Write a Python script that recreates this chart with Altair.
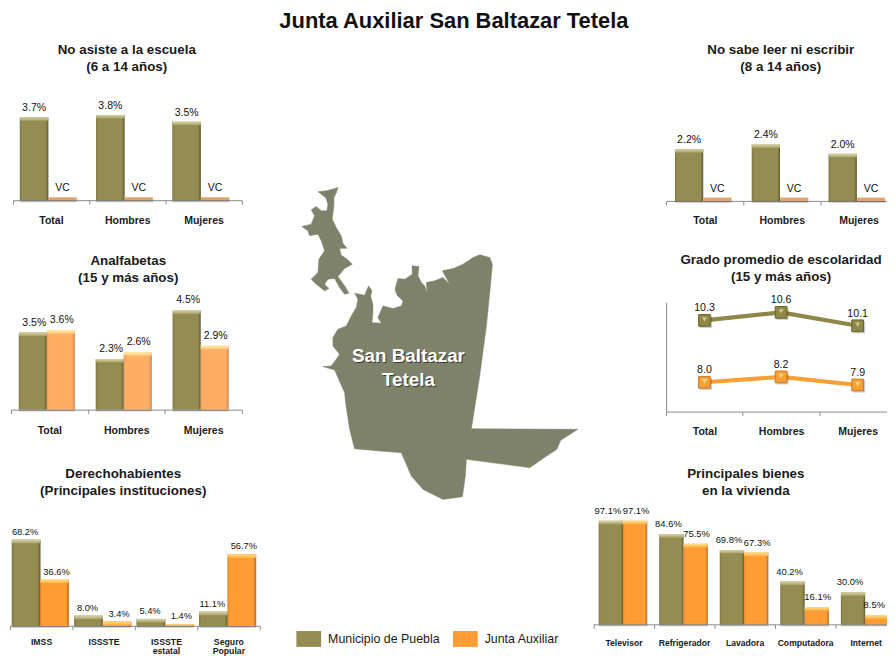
import altair as alt

TITLE = "Junta Auxiliar San Baltazar Tetela"
S_A = "Municipio de Puebla"
S_B = "Junta Auxiliar"
FONT = "Liberation Sans"
INK = "#1a1a1a"

grupos = ["Total", "Hombres", "Mujeres"]

asiste_a = [3.7, 3.8, 3.5]
asiste_b = [0.13, 0.13, 0.13]
asiste_lab_a = ["3.7%", "3.8%", "3.5%"]
asiste_lab_b = ["VC", "VC", "VC"]

leer_a = [2.2, 2.4, 2.0]
leer_b = [0.14, 0.14, 0.14]
leer_lab_a = ["2.2%", "2.4%", "2.0%"]
leer_lab_b = ["VC", "VC", "VC"]

analf_a = [3.5, 2.3, 4.5]
analf_b = [3.6, 2.6, 2.9]
analf_lab_a = ["3.5%", "2.3%", "4.5%"]
analf_lab_b = ["3.6%", "2.6%", "2.9%"]

grado_a = [10.3, 10.6, 10.1]
grado_b = [8.0, 8.2, 7.9]

inst = ["IMSS", "ISSSTE", "ISSSTE|estatal", "Seguro|Popular"]
inst_a = [68.2, 8.0, 5.4, 11.1]
inst_b = [36.6, 3.4, 1.4, 56.7]

bienes = ["Televisor", "Refrigerador", "Lavadora", "Computadora", "Internet"]
bienes_a = [97.1, 84.6, 69.8, 40.2, 30.0]
bienes_b = [97.1, 75.5, 67.3, 16.1, 8.5]

map_north = [(85,68),(110,65),(130,60),(145,55),(140,72),(133,85),(133,110),(128,150),(140,175),(155,200),
             (160,222),(172,237),(150,238),(155,258),(170,268),(188,285),(165,298),(145,322),(165,350),(178,372),
             (165,375),(150,355),(135,328),(115,330),(105,345),(118,358),(105,365),(80,345),(65,330),(85,310),
             (88,270),(105,245),(95,215),(85,195),(60,200),(55,185),(37,172),(65,165),(75,140),(65,122),
             (80,112),(95,125),(112,125),(115,105),(108,85),(85,68)]
map_main = [(195,372),(225,378),(237,350),(247,365),(243,380),(250,405),(250,430),(247,460),(275,462),(265,445),
            (280,410),(310,418),(335,410),(340,395),(322,378),(316,360),(325,328),(345,330),(368,315),(367,290),
            (388,292),(385,320),(395,340),(405,350),(412,372),(410,340),(435,335),(460,325),(480,345),(458,305),
            (490,298),(520,285),(550,265),(570,257),(600,265),(608,285),(603,340),(590,470),(570,620),(545,778),
            (864,780),(813,813),(801,840),(765,864),(720,895),(530,870),(527,920),(518,982),(460,990),(400,960),
            (365,920),(335,850),(270,845),(195,838),(180,780),(168,700),(165,670),(145,625),(135,602),(100,592),
            (125,590),(140,570),(150,555),(130,530),(130,505),(145,480),(170,470),(185,440),(200,415),(205,390),
            (195,372)]

W, H = 887, 648
SX, SY = 0.992, 0.989


def PX(x):
    return (x - 0.2) / SX - 8


def PY(y):
    return (y - 4.2) / SY - 8


def grad(edge_l, body, edge_r):
    return alt.LinearGradient(
        gradient="linear", x1=0, x2=1, y1=0, y2=0,
        stops=[alt.GradientStop(color=edge_l, offset=0),
               alt.GradientStop(color=body, offset=0.08),
               alt.GradientStop(color=body, offset=0.9),
               alt.GradientStop(color=edge_r, offset=1)])


def vgrad(top, bottom):
    return alt.LinearGradient(
        gradient="linear", x1=0, x2=0, y1=0, y2=1,
        stops=[alt.GradientStop(color=top, offset=0), alt.GradientStop(color=bottom, offset=1)])


OLIVE = dict(fill=grad("#7d7640", "#948c52", "#625c30"), hi=vgrad("#d8d4a4", "#a8a26a"))
ORANGE = dict(fill=grad("#e08a2c", "#ff9c33", "#b86a24"), hi=vgrad("#ffe08a", "#ffb048"))
PALE = dict(fill=grad("#eda05c", "#ffae66", "#cf8a50"), hi=vgrad("#fff0a8", "#ffc47c"))
FLAT_VC = dict(fill="#e0a468", hi=None)


def x_axis(cats_font, cats_weight, base, pad):
    return alt.Axis(orient="bottom", offset=PY(base) - H, title=None, grid=False, labelAngle=0,
                    tickBand="extent", tickSize=4, tickColor="#8a8a8a", domainColor="#8a8a8a",
                    labelFont=FONT, labelFontSize=cats_font, labelFontWeight=cats_weight, labelColor=INK,
                    labelPadding=pad, labelOverlap=False, labelLineHeight=9.5,
                    labelExpr="split(datum.label, '|')")


def bars_panel(cats, va, vb, la, lb, x0, x1, base, k, off, style_b, font, ax_font, ax_weight, pad, dy,
               dx_a=0, dx_b=0, last_b_dx=None, legend=False):
    top = max(va + vb) * 1.1
    ky = k / SY
    xs = alt.X("cat:N", scale=alt.Scale(domain=cats, range=[PX(x0), PX(x1)], paddingInner=0, paddingOuter=0),
               axis=x_axis(ax_font, ax_weight, base, pad), sort=None)
    ys = alt.Y("v:Q", scale=alt.Scale(domain=[0, top], range=[PY(base), PY(base) - top * ky], nice=False, zero=True),
               axis=None)
    xo = alt.XOffset("s:N", scale=alt.Scale(domain=[S_A, S_B], range=[off[0] / SX, off[1] / SX],
                                            paddingInner=0, paddingOuter=0), sort=None)
    rows = lambda s, vals, labs: [
        {"cat": c, "s": s, "v": v, "v2": 0, "h": max(0, v - 3.5 / k), "t": t}
        for c, v, t in zip(cats, vals, labs)]
    ra, rb = rows(S_A, va, la), rows(S_B, vb, lb)
    layers = []
    enc = dict(x=xs, xOffset=xo, y=ys)
    layers.append(alt.Chart(alt.Data(values=ra + rb)).mark_bar(color="#000000", opacity=0.22, xOffset=2, x2Offset=2,
                                                              yOffset=1, y2Offset=2)
                  .encode(**enc, y2=alt.Y2("v2:Q")))
    if legend:
        layers.append(alt.Chart(alt.Data(values=ra + rb)).mark_bar().encode(
            **enc, y2=alt.Y2("v2:Q"),
            color=alt.Color("s:N", scale=alt.Scale(domain=[S_A, S_B], range=["#948c52", "#ff9c33"]),
                            legend=alt.Legend(orient="none", legendX=291, legendY=621, direction="horizontal",
                                              title=None, symbolType="M-1,-0.64H1V0.64H-1Z", symbolSize=625,
                                              symbolStrokeWidth=0, symbolOpacity=1, labelFont=FONT, labelFontSize=12.5,
                                              labelColor=INK, labelOffset=7, columnPadding=13))))
    for r, st in ((ra, OLIVE), (rb, style_b)):
        layers.append(alt.Chart(alt.Data(values=r)).mark_bar(color=st["fill"]).encode(**enc, y2=alt.Y2("v2:Q")))
        if st["hi"] is not None:
            layers.append(alt.Chart(alt.Data(values=r)).mark_bar(color=st["hi"]).encode(**enc, y2=alt.Y2("h:Q")))
    text_sets = [(ra, dx_a)]
    if last_b_dx is None:
        text_sets.append((rb, dx_b))
    else:
        text_sets += [(rb[:-1], dx_b), (rb[-1:], last_b_dx)]
    for r, dx in text_sets:
        layers.append(alt.Chart(alt.Data(values=r)).mark_text(
            font=FONT, fontSize=font, color="#111111", baseline="bottom", dy=dy, dx=dx).encode(**enc, text="t:N"))
    return alt.layer(*layers)


def line_panel():
    x0, x1, base = 667, 897, 412
    xs = alt.X("cat:N", scale=alt.Scale(domain=grupos, range=[PX(x0), PX(x1)], paddingInner=0, paddingOuter=0),
               axis=x_axis(10.6, "bold", base, 11), sort=None)
    ymin, ymax = 6.91, 10.97
    ys = alt.Y("v:Q", scale=alt.Scale(domain=[ymin, ymax], range=[PY(base), PY(303)], nice=False, zero=False),
               axis=alt.Axis(orient="left", offset=-PX(x0), title=None, grid=False, ticks=False, labels=False,
                             domainColor="#8a8a8a"))
    layers = []
    for vals, col, edge, hi in ((grado_a, "#8f8748", "#69632f", "#c9c58e"), (grado_b, "#f7a035", "#c9782a", "#ffd88a")):
        d = alt.Data(values=[{"cat": c, "v": v, "t": f"{v:.1f}"} for c, v in zip(grupos, vals)])
        base_c = alt.Chart(d).encode(x=xs, y=ys)
        layers += [
            base_c.mark_line(color=col, strokeWidth=4.2),
            base_c.mark_point(shape="square", filled=True, size=150, color="#000000", opacity=0.2, xOffset=1.5, yOffset=1.5),
            base_c.mark_point(shape="square", filled=True, size=140, fill=col, stroke=edge, strokeWidth=1, opacity=1),
            base_c.mark_point(shape="triangle-down", filled=True, size=26, color=hi, opacity=1, yOffset=-1),
            base_c.mark_text(font=FONT, fontSize=10.7, color="#111111", baseline="bottom", dy=-7).encode(text="t:N"),
        ]
    return alt.layer(*layers)


def map_layer():
    geo = {"type": "Feature", "properties": {},
           "geometry": {"type": "MultiPolygon",
                        "coordinates": [[[list(p) for p in map_north]], [[list(p) for p in map_main]]]}}
    return alt.Chart(alt.Data(values=[geo])).mark_geoshape(fill="#7f826b", stroke="#7f826b", strokeWidth=0.5).project(
        type="identity", scale=1 / (3 * 0.99), translate=[284.1, 159.6])


def text_layer(lines, cx, cy, size, color=INK, lh=17):
    return alt.Chart(alt.Data(values=[{"t": lines}])).mark_text(
        font=FONT, fontSize=size, fontWeight="bold", color=color, align="center", baseline="middle",
        lineBreak="\n", lineHeight=lh).encode(text="t:N", x=alt.value(PX(cx)), y=alt.value(PY(cy)))


p1 = bars_panel(grupos, asiste_a, asiste_b, asiste_lab_a, asiste_lab_b, 13, 242, 201, 22.4, (7, 64), FLAT_VC,
                10.6, 10.6, "bold", 12, -4)
p2 = bars_panel(grupos, analf_a, analf_b, analf_lab_a, analf_lab_b, 11, 242, 410, 22, (8, 64), PALE,
                10.6, 10.6, "bold", 12, -5, dx_a=1.5, dx_b=1)
p3 = bars_panel(inst, inst_a, inst_b, [f"{v}%" for v in inst_a], [f"{v}%" for v in inst_b],
                10, 260, 625.7, 1.257, (2, 59), ORANGE, 9.4, 8.8, "bold", 8, -3, dx_a=-1, dx_b=2, legend=True)
p4 = bars_panel(grupos, leer_a, leer_b, leer_lab_a, leer_lab_b, 667.3, 898, 201.7, 23.5, (8.5, 65), FLAT_VC,
                10.6, 10.6, "bold", 11, -4)
p5 = line_panel()
p6 = bars_panel(bienes, bienes_a, bienes_b, [f"{v}%" for v in bienes_a], [f"{v}%" for v in bienes_b],
                594, 897, 624.3, 1.064, (5.5, 54), ORANGE, 9.5, 8.7, "bold", 10.5, -5, dx_a=-3, dx_b=1, last_b_dx=-3)

layers_all = alt.layer(
    map_layer(),
    p1, p2, p3, p4, p5, p6,
    text_layer("No asiste a la escuela\n(6 a 14 años)", 127, 51.5, 13.5),
    text_layer("Analfabetas\n(15 y más años)", 128.5, 261.5, 13.5),
    text_layer("Derechohabientes\n(Principales instituciones)", 123.5, 474.5, 13.5),
    text_layer("No sabe leer ni escribir\n(8 a 14 años)", 781.7, 51.5, 13.5),
    text_layer("Grado promedio de escolaridad\n(15 y más años)", 782, 260.5, 13.5),
    text_layer("Principales bienes\nen la vivienda", 746.7, 474.5, 13.5),
    text_layer("San Baltazar\nTetela", 410, 358, 19, color="#3a3a30", lh=23.3),
    text_layer("San Baltazar\nTetela", 409, 357, 19, color="#ffffff", lh=23.3),
)
chart = layers_all.resolve_scale(x="independent", y="independent", xOffset="independent").resolve_axis(
    x="independent", y="independent"
).properties(
    width=W, height=H,
    autosize=alt.AutoSizeParams(type="none"),
    padding=0,
    title=alt.TitleParams(TITLE, font=FONT, fontSize=22.1, fontWeight="bold", color="#111111",
                          anchor="middle", offset=-22, dx=6.5),
).configure_view(stroke=None)

chart.save("out.html", embed_options={"renderer": "svg", "actions": False})
